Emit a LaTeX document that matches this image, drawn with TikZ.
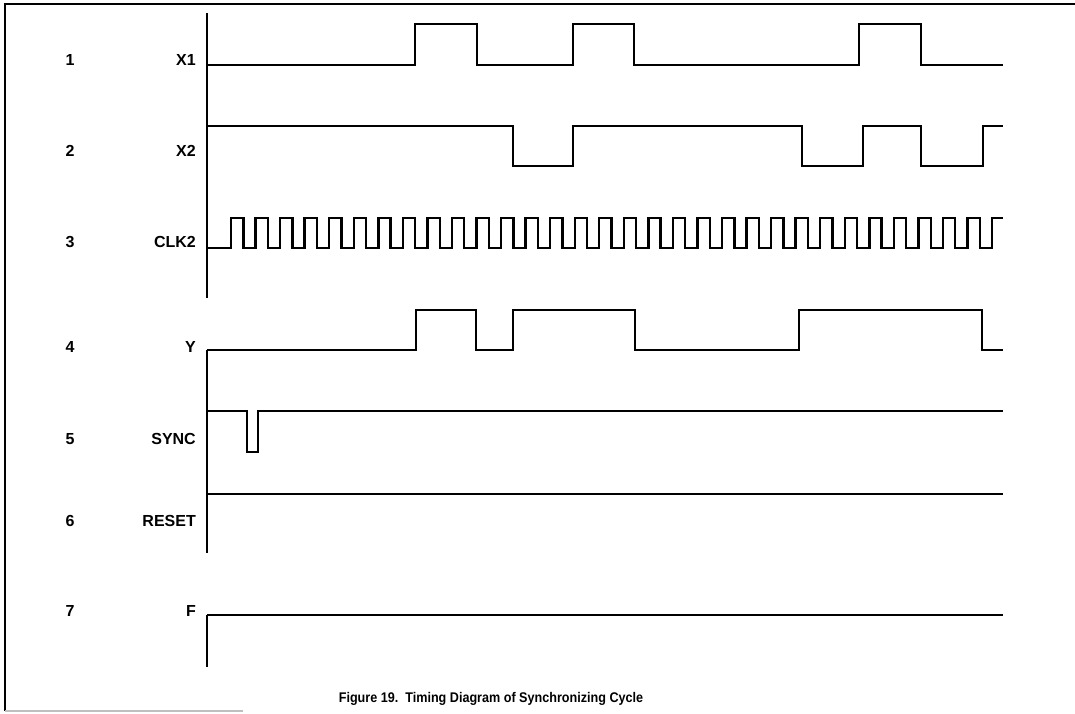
\documentclass[tikz,border=0pt]{standalone}
\usepackage{fontspec}
\setmainfont{Liberation Sans}
\newfontfamily\capfont[FakeStretch=0.9]{Liberation Sans}
\tikzset{
  wave/.style={line width=2.4pt, line join=miter},
  axisline/.style={line width=2.4pt},
  rownum/.style={font=\fontsize{16}{18}\selectfont\bfseries, inner sep=0pt, text height=11.5pt, text depth=0pt},
  siglabel/.style={rownum, anchor=east},
}

\begin{document}
\begin{tikzpicture}[x=1pt, y=-1pt]
\useasboundingbox (0,0) rectangle (1075,713);
% frame
\draw[line width=1.8pt] (1075,4) -- (5,4) -- (5,711);
\draw[black!25, line width=1.4pt] (5,711) -- (243,711);

% axis lines
\draw[axisline] (207,13) -- (207,298);
\draw[axisline] (207,350) -- (207,553);
\draw[axisline] (207,615) -- (207,667);

% row numbers and names: number / name / y
\foreach \n/\lbl/\y in {1/X1/60, 2/X2/151, 3/CLK2/242, 4/Y/347,
                        5/SYNC/439, 6/RESET/521, 7/F/611}
{
  \node[rownum] (num\n) at (70,\y) {\n};
  \node[siglabel] (sig\n) at (196,\y) {\lbl};
}

% waveforms
\draw[wave] (207,65) -| (415,24) -| (477,65) -| (573,24) -| (634,65)
  -| (859,24) -| (921,65) -- (1003,65);
\draw[wave] (207,126) -| (513,166) -| (573,126) -| (802,166) -| (863,126)
  -| (921,166) -| (983,126) -- (1003,126);
% clock: 32 pulses
\draw[wave] (207,248) foreach \i in {0,...,30} {
  -| ({231+\i*24.55},218) -| ({243.3+\i*24.55},248) } -| (992,218) -- (1003,218);
\draw[wave] (207,350) -| (416,310) -| (476,350) -| (513,310) -| (635,350)
  -| (799,310) -| (982,350) -- (1003,350);
\draw[wave] (207,411) -| (247,452) -| (258,411) -- (1003,411);
\draw[wave] (207,494) -- (1003,494);
\draw[wave] (207,615) -- (1003,615);

% caption
\node[font=\capfont\fontsize{14}{16}\selectfont\bfseries, anchor=base, inner sep=0pt]
  (caption) at (491,702) {Figure 19.\ \ Timing Diagram of Synchronizing Cycle};
\end{tikzpicture}
\end{document}
